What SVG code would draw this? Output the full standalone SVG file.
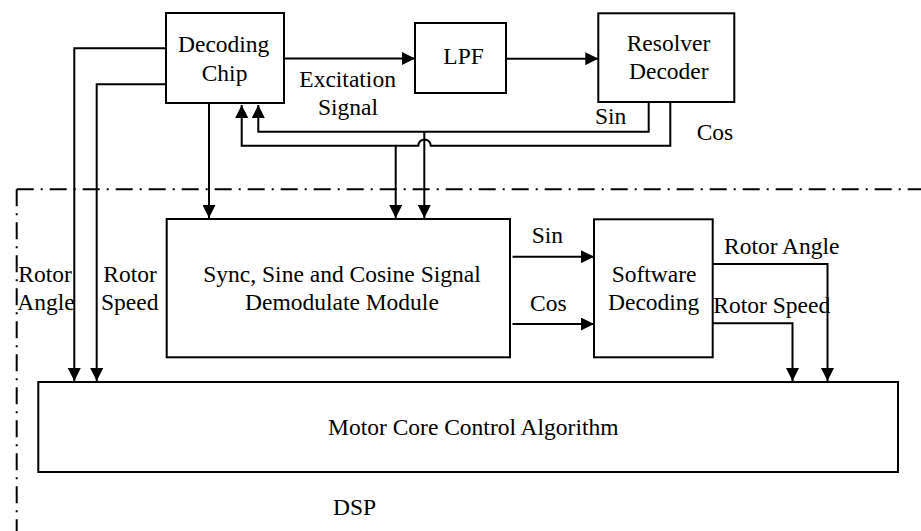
<svg xmlns="http://www.w3.org/2000/svg" width="921" height="531" viewBox="0 0 921 531">
<style>
.box{fill:#fff;stroke:#000;stroke-width:2}
.ln{fill:none;stroke:#000;stroke-width:2}
.dd{fill:none;stroke:#000;stroke-width:2;stroke-dasharray:17 7 2 7}
text{font-family:'Liberation Serif','Times New Roman','DejaVu Serif',serif;font-size:23.5px;fill:#000}
</style>
<defs>
<marker id="ah" markerUnits="userSpaceOnUse" markerWidth="13" markerHeight="13" refX="13" refY="6.5" orient="auto" viewBox="0 0 13 13">
<path d="M0,0 L13,6.5 L0,13 z" fill="#000"/>
</marker>
</defs>
<rect width="921" height="531" fill="#fff"/>
<g id="dsp-boundary">
<path class="dd" d="M16.7,189.3 H921"/>
<path class="dd" d="M16.7,189.3 V531"/>
<text x="333" y="515" font-family="Liberation Serif, serif">DSP</text>
</g>
<g id="connectors">
<path class="ln" d="M284,58.5 H415" marker-end="url(#ah)"/>
<path class="ln" d="M506,58.7 H598.3" marker-end="url(#ah)"/>
<path class="ln" d="M648.7,102 V131.7 H258.3 V105" marker-end="url(#ah)"/>
<path class="ln" d="M670.3,102 V145.7 H430.7 A6.2,6.2 0 0 0 418.3,145.7 H241.7 V105" marker-end="url(#ah)"/>
<path class="ln" d="M395.7,145.7 V218" marker-end="url(#ah)"/>
<path class="ln" d="M424.3,131.7 V218" marker-end="url(#ah)"/>
<path class="ln" d="M209,104 V218" marker-end="url(#ah)"/>
<path class="ln" d="M166,48.3 H74.3 V381" marker-end="url(#ah)"/>
<path class="ln" d="M166,84.3 H96.7 V381" marker-end="url(#ah)"/>
<path class="ln" d="M512.5,256.7 H594" marker-end="url(#ah)"/>
<path class="ln" d="M512.5,324 H594" marker-end="url(#ah)"/>
<path class="ln" d="M712.7,264 H827.5 V381" marker-end="url(#ah)"/>
<path class="ln" d="M712.7,323.3 H792.5 V381" marker-end="url(#ah)"/>
<text x="299.3" y="87.3">Excitation</text>
<text x="318" y="115">Signal</text>
<text x="595" y="124">Sin</text>
<text x="696.7" y="140">Cos</text>
<text x="18.3" y="281.7">Rotor</text>
<text x="17.3" y="310">Angle</text>
<text x="103.3" y="281.7">Rotor</text>
<text x="101" y="310">Speed</text>
<text x="531.7" y="242.7">Sin</text>
<text x="530" y="311">Cos</text>
<text x="724" y="254">Rotor Angle</text>
<text x="713.3" y="313.3">Rotor Speed</text>
</g>
<g id="decoding-chip">
<rect class="box" x="166" y="13" width="118" height="90"/>
<text x="178" y="52">Decoding</text>
<text x="201.7" y="81">Chip</text>
</g>
<g id="lpf">
<rect class="box" x="415" y="23" width="91" height="70"/>
<text x="443.3" y="64">LPF</text>
</g>
<g id="resolver-decoder">
<rect class="box" x="598.3" y="13.3" width="136" height="88.7"/>
<text x="626.7" y="50.7">Resolver</text>
<text x="629" y="79">Decoder</text>
</g>
<g id="demodulate-module">
<rect class="box" x="166.7" y="219" width="343.3" height="138.3"/>
<text x="203.3" y="281.7">Sync, Sine and Cosine Signal</text>
<text x="245" y="310">Demodulate Module</text>
</g>
<g id="software-decoding">
<rect class="box" x="594" y="219.3" width="118.7" height="138"/>
<text x="611.7" y="281.7">Software</text>
<text x="608" y="310">Decoding</text>
</g>
<g id="motor-control">
<rect class="box" x="38.3" y="382" width="859.7" height="90"/>
<text x="328" y="435">Motor Core Control Algorithm</text>
</g>
</svg>
